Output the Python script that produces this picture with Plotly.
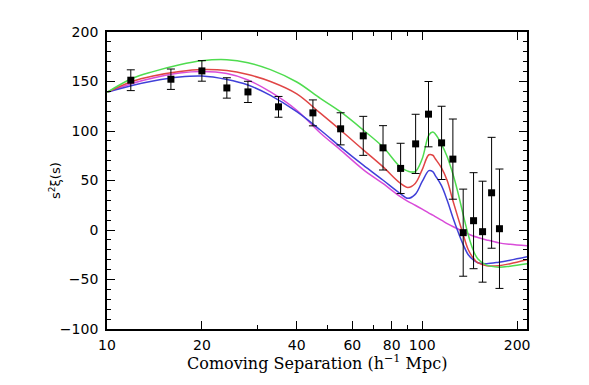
import plotly.graph_objects as go

# Measured correlation function points
sep = [11.9, 15.95, 20.0, 24.0, 28.0, 35.0, 45.0, 55.1, 65.0, 75.1,
       85.4, 95.3, 104.7, 115.2, 125.1, 134.9, 145.5, 155.4, 166.0, 175.8]
s2xi = [151.3, 152.3, 160.7, 143.5, 139.5, 124.4, 118.3, 102.2, 95.1, 83.0,
        62.2, 87.0, 117.0, 88.0, 71.6, -2.7, 9.4, -1.7, 37.6, 1.3]
s2xi_err = [10.5, 10.3, 10.4, 10.3, 10.7, 10.5, 13.1, 16.2, 19.7, 22.4,
            25.4, 29.9, 33.0, 37.0, 40.5, 44.0, 48.5, 51.0, 56.0, 60.3]

# Model curves
model_s = [10, 12, 14, 17, 20, 24, 28, 33, 40, 47.5, 55, 65, 75, 85, 90, 95,
           100, 105, 108, 110, 115, 120, 125, 130, 135, 140, 145, 150, 160, 175, 190, 215]
green = [139, 153, 160, 167, 171, 172, 169, 162, 149.5, 133, 119.5, 101, 84, 64, 59.5, 59,
         72, 96, 99, 97, 87, 74, 57, 37, 15, -5, -20, -29, -35.5, -37.5, -36.5, -34]
red = [139, 150, 155.5, 160, 162, 161, 157, 150, 137.5, 118, 101, 81, 64, 47.5, 43, 47,
       61, 76, 75.5, 72, 63, 50, 30, 12, -5, -20, -28, -33, -36, -36, -34, -30]
blue = [139, 146, 150.5, 154.5, 155.5, 152, 146.5, 136, 119.5, 101, 84, 65.5, 50.5, 37, 32, 36,
        49, 60, 59, 55, 45, 30, 13, -2, -15, -25, -30, -33, -34, -32.5, -30.5, -27]
magenta = [139, 148, 153.5, 158.5, 160, 158, 151.5, 139.5, 121, 98, 81, 61, 47, 34, 29, 25,
           21, 17, 15, 13.5, 10, 6.5, 3.5, 1, -2, -4, -6, -7.5, -10, -13, -14.5, -16]

x_major = [10, 20, 40, 60, 80, 100, 200]
x_minor = [30, 50, 70, 90]
x_labels = ["10", "20", "40", "60", "80", "100", "200"]

fig = go.Figure()
curves = [(magenta, "#d94cd9"), (blue, "#4040d8"), (red, "#e04545"), (green, "#4fdc4f")]
for vals, col in curves:
    fig.add_trace(go.Scatter(x=model_s, y=vals, mode="lines",
                             line=dict(color=col, width=1.5, shape="spline", smoothing=1.0),
                             showlegend=False, hoverinfo="skip"))

fig.add_trace(go.Scatter(x=sep, y=s2xi, mode="markers",
                         marker=dict(symbol="square", size=7, color="black"),
                         error_y=dict(type="data", array=s2xi_err, visible=True,
                                      color="black", thickness=1, width=4),
                         showlegend=False))

axis_font = dict(family="DejaVu Sans", size=14, color="black")
fig.update_xaxes(type="log", range=[1, 2.3324],
                 tickmode="array", tickvals=x_major, ticktext=x_labels,
                 ticks="inside", ticklen=8, tickwidth=1.2, tickcolor="black",
                 minor=dict(tickmode="array", tickvals=x_minor, ticks="inside",
                            ticklen=4, tickwidth=1.2, tickcolor="black"),
                 showline=True, linewidth=1.8, linecolor="black", mirror="allticks",
                 showgrid=False, zeroline=False, tickfont=axis_font,
                 ticklabelstandoff=2)
fig.update_yaxes(range=[-100, 200], tickmode="linear", tick0=0, dtick=50,
                 ticks="inside", ticklen=8, tickwidth=1.2, tickcolor="black",
                 minor=dict(dtick=10, ticks="inside", ticklen=4, tickwidth=1.2,
                            tickcolor="black"),
                 showline=True, linewidth=1.8, linecolor="black", mirror="allticks",
                 showgrid=False, zeroline=False, tickfont=axis_font,
                 ticklabelstandoff=4)

fig.add_annotation(text="Comoving Separation (h<sup>\u22121</sup> Mpc)",
                   xref="paper", yref="paper", x=0.5, y=-0.114,
                   xanchor="center", yanchor="middle", showarrow=False,
                   font=dict(family="DejaVu Serif", size=16, color="black"))
fig.add_annotation(text="s<sup>2</sup>\u03be(s)",
                   xref="paper", yref="paper", x=-0.125, y=0.5,
                   xanchor="center", yanchor="middle", textangle=-90, showarrow=False,
                   font=dict(family="DejaVu Sans", size=13, color="black"))

fig.update_layout(width=589, height=385,
                  margin=dict(l=99, r=70, t=24, b=64),
                  paper_bgcolor="white", plot_bgcolor="white")

fig.write_html("out.html")
